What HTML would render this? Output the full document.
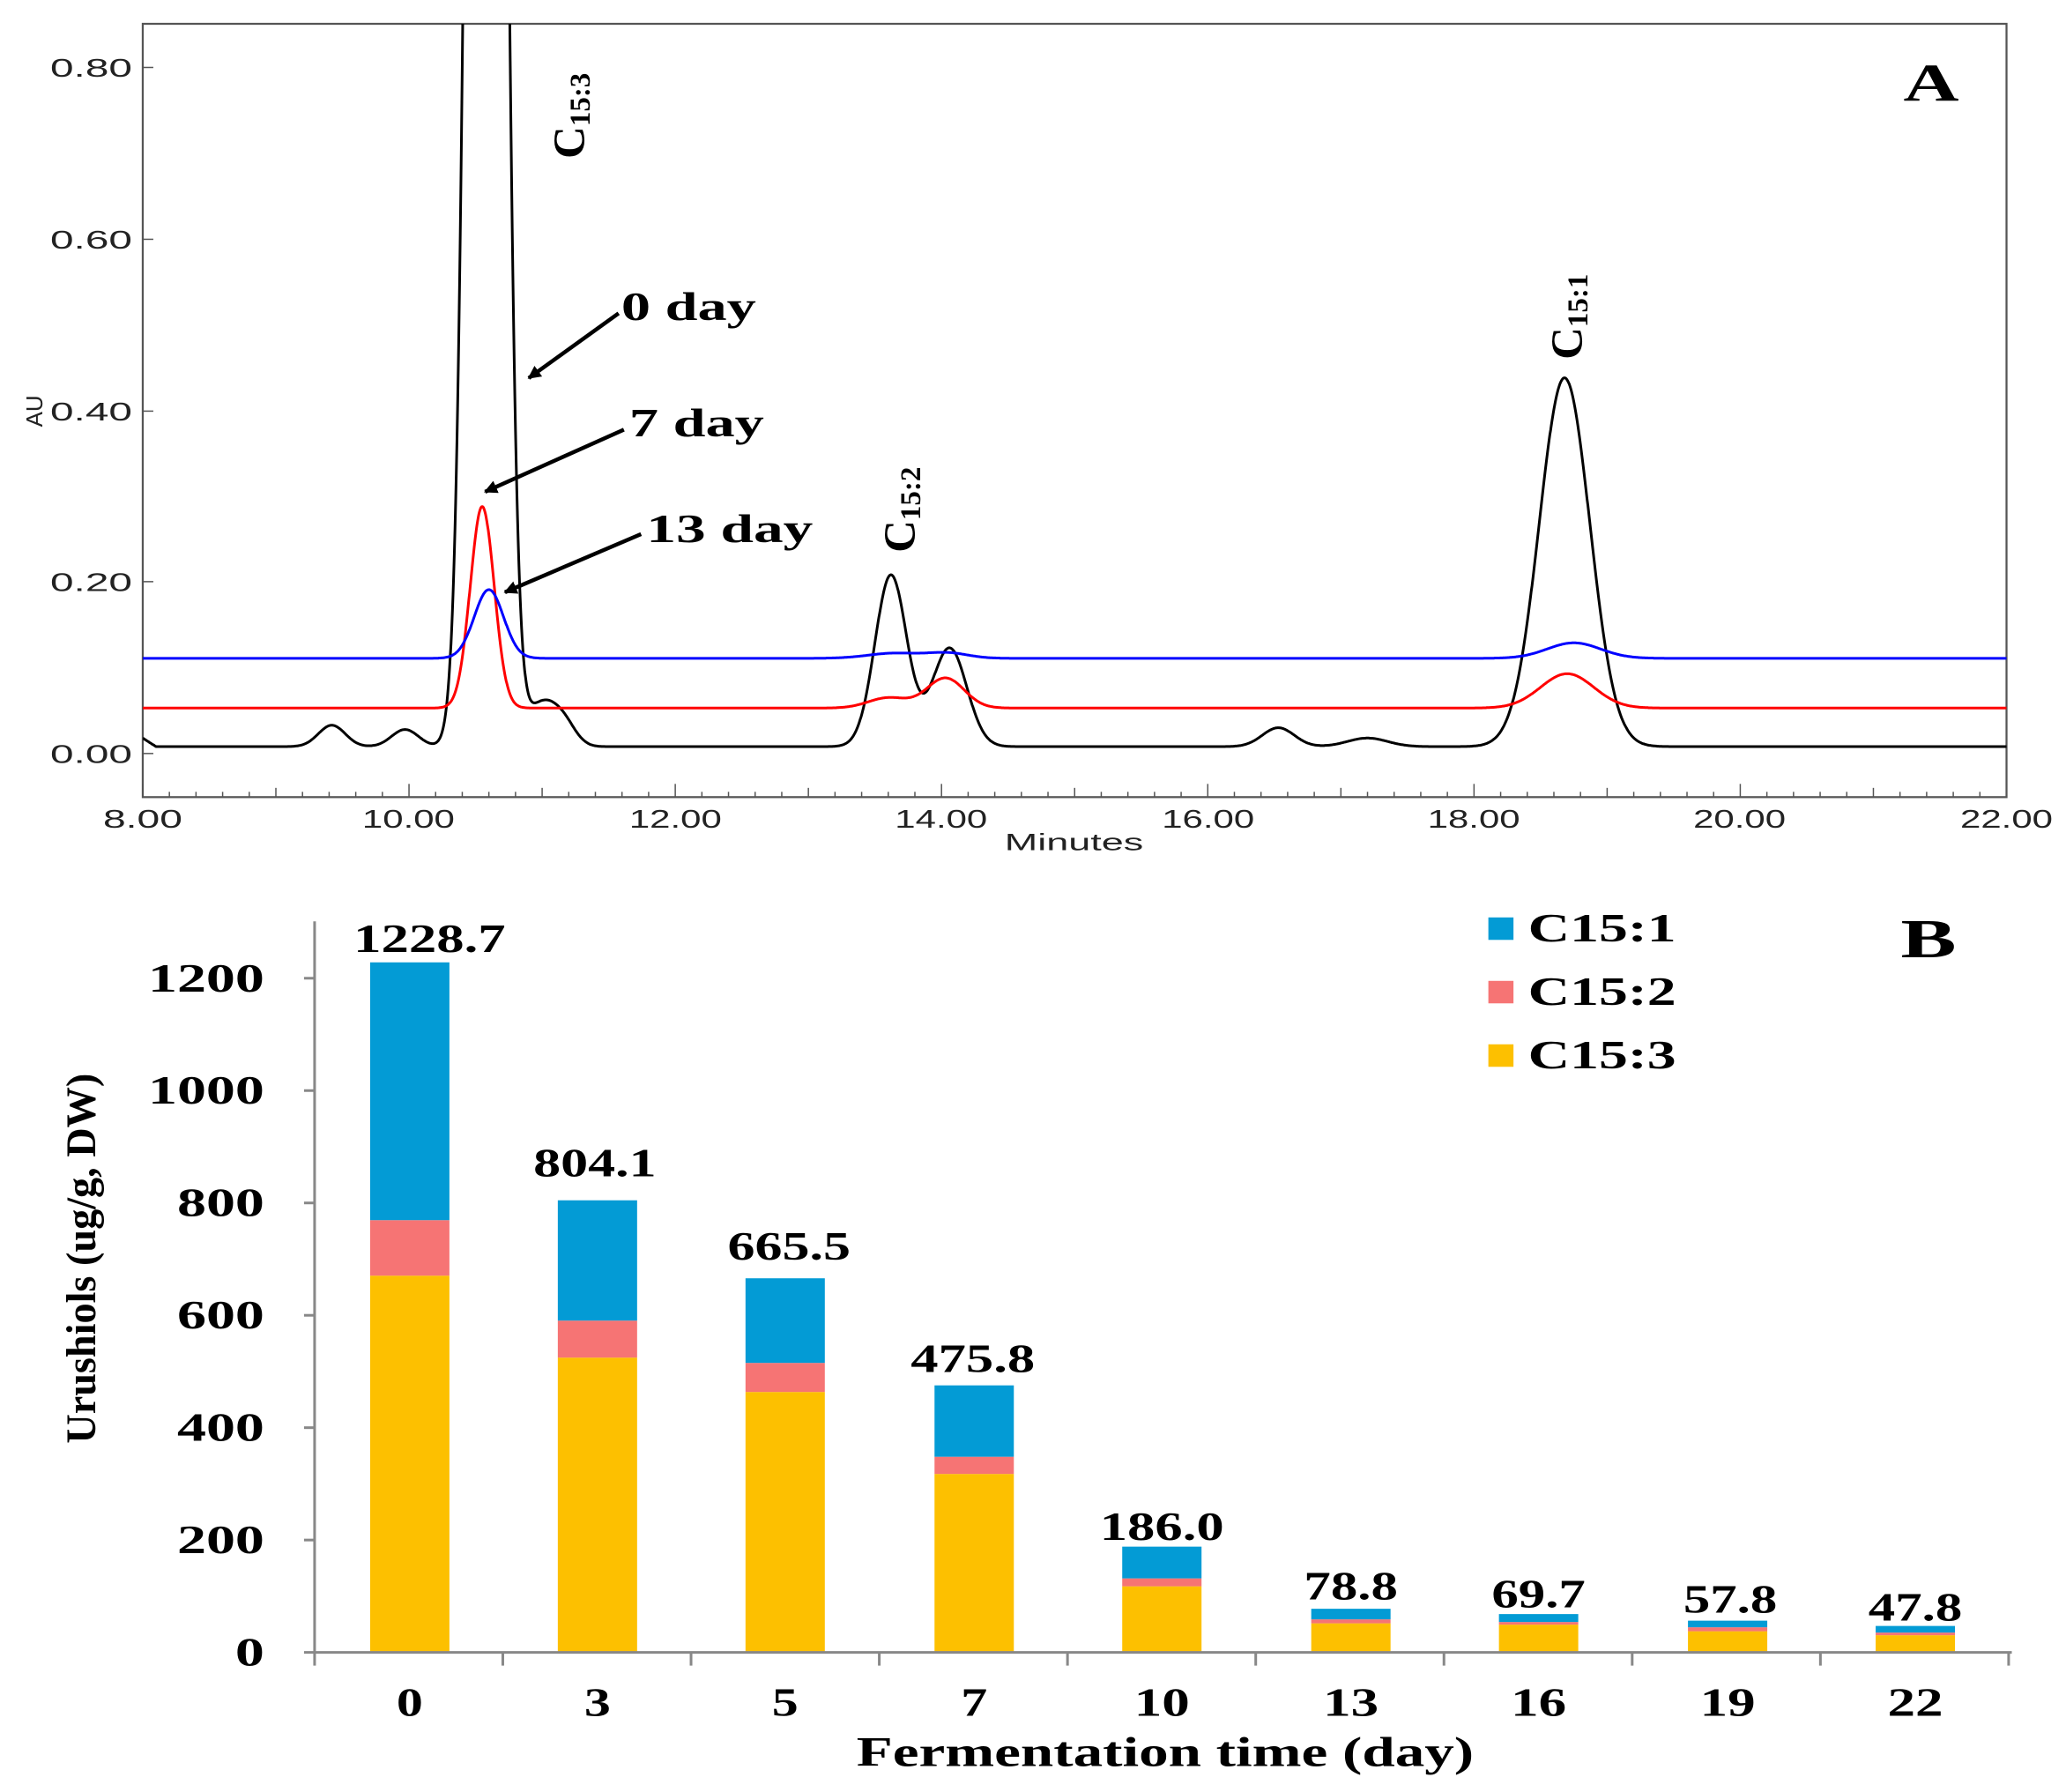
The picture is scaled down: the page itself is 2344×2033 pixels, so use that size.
<!DOCTYPE html>
<html><head><meta charset="utf-8"><style>html,body{margin:0;padding:0;background:#fff}svg{display:block}</style></head>
<body>
<svg id="s" width="2344" height="2033" viewBox="0 0 1563 1355.6" xmlns="http://www.w3.org/2000/svg" font-family="Liberation Serif, serif">
<defs><clipPath id="cp"><rect x="108" y="18" width="1410" height="585"/></clipPath>
<marker id="ah" markerWidth="10" markerHeight="10" refX="9" refY="5" orient="auto" markerUnits="userSpaceOnUse" viewBox="0 0 10 10"><path d="M0,0 L10,5 L0,10 z" fill="#000"/></marker></defs>
<!-- Panel A -->
<rect x="108" y="18" width="1410" height="585" fill="none" stroke="#555" stroke-width="1.5"/>
<g id="ticksA" stroke="#555" stroke-width="1"></g>
<g font-family="Liberation Sans, sans-serif" font-size="19" fill="#222" lengthAdjust="spacingAndGlyphs">
<text x="38" y="58" textLength="62" lengthAdjust="spacingAndGlyphs">0.80</text><text x="38" y="188" textLength="62" lengthAdjust="spacingAndGlyphs">0.60</text><text x="38" y="318" textLength="62" lengthAdjust="spacingAndGlyphs">0.40</text><text x="38" y="447" textLength="62" lengthAdjust="spacingAndGlyphs">0.20</text><text x="38" y="577" textLength="62" lengthAdjust="spacingAndGlyphs">0.00</text>
</g>
<g font-family="Liberation Sans, sans-serif" font-size="19" fill="#222">
<text x="78" y="626" textLength="60" lengthAdjust="spacingAndGlyphs">8.00</text>
<text x="274" y="626" textLength="70" lengthAdjust="spacingAndGlyphs">10.00</text>
<text x="476" y="626" textLength="70" lengthAdjust="spacingAndGlyphs">12.00</text>
<text x="677" y="626" textLength="70" lengthAdjust="spacingAndGlyphs">14.00</text>
<text x="879" y="626" textLength="70" lengthAdjust="spacingAndGlyphs">16.00</text>
<text x="1080" y="626" textLength="70" lengthAdjust="spacingAndGlyphs">18.00</text>
<text x="1281" y="626" textLength="70" lengthAdjust="spacingAndGlyphs">20.00</text>
<text x="1483" y="626" textLength="70" lengthAdjust="spacingAndGlyphs">22.00</text>
<text x="760" y="643" font-size="18" textLength="105" lengthAdjust="spacingAndGlyphs">Minutes</text>
<text transform="translate(32,323) rotate(-90)" font-size="17" textLength="24" lengthAdjust="spacingAndGlyphs">AU</text>
</g>
<g clip-path="url(#cp)" fill="none" stroke-width="2">
<path id="pk" stroke="#000"/><path id="pr" stroke="#f00"/><path id="pb" stroke="#00f"/>
</g>
<text x="1440" y="76" font-size="40" font-weight="bold" textLength="42" lengthAdjust="spacingAndGlyphs">A</text>
<g font-weight="bold" font-size="34">
<text transform="translate(442,120) rotate(-90)">C<tspan font-size="22" dy="4">15:3</tspan></text>
<text transform="translate(692,418) rotate(-90)">C<tspan font-size="22" dy="4">15:2</tspan></text>
<text transform="translate(1197,272) rotate(-90)">C<tspan font-size="22" dy="4">15:1</tspan></text>
</g>
<g font-weight="bold" font-size="30">
<text x="470" y="242" textLength="102" lengthAdjust="spacingAndGlyphs">0 day</text>
<text x="476" y="330" textLength="102" lengthAdjust="spacingAndGlyphs">7 day</text>
<text x="489" y="410" textLength="126" lengthAdjust="spacingAndGlyphs">13 day</text>
</g>
<g stroke="#000" stroke-width="3" fill="none" marker-end="url(#ah)">
<line x1="468" y1="237" x2="400" y2="286"/>
<line x1="472" y1="325" x2="367" y2="372"/>
<line x1="485" y1="404" x2="382" y2="448"/>
</g>
<!-- Panel B -->
<g id="bars"></g>
<line x1="238" y1="697" x2="238" y2="1250" stroke="#888" stroke-width="2"/>
<line x1="238" y1="1250" x2="1522" y2="1250" stroke="#888" stroke-width="2"/>
<g id="ticksB" stroke="#888" stroke-width="2"></g>
<g font-weight="bold" font-size="30" fill="#000">
<text x="112" y="750" textLength="88" lengthAdjust="spacingAndGlyphs">1200</text>
<text x="112" y="835" textLength="88" lengthAdjust="spacingAndGlyphs">1000</text>
<text x="134" y="920" textLength="66" lengthAdjust="spacingAndGlyphs">800</text>
<text x="134" y="1005" textLength="66" lengthAdjust="spacingAndGlyphs">600</text>
<text x="134" y="1090" textLength="66" lengthAdjust="spacingAndGlyphs">400</text>
<text x="134" y="1175" textLength="66" lengthAdjust="spacingAndGlyphs">200</text>
<text x="178" y="1260" textLength="22" lengthAdjust="spacingAndGlyphs">0</text>
</g>
<g id="xlB" font-weight="bold" font-size="30"></g>
<text x="648" y="1336" font-weight="bold" font-size="32" textLength="467" lengthAdjust="spacingAndGlyphs">Fermentation time (day)</text>
<text transform="translate(72,1092) rotate(-90)" font-weight="bold" font-size="32" textLength="280" lengthAdjust="spacingAndGlyphs">Urushiols (ug/g, DW)</text>
<text x="1438" y="724" font-size="42" font-weight="bold" textLength="42" lengthAdjust="spacingAndGlyphs">B</text>
<g font-weight="bold" font-size="30">
<rect x="1126" y="694" width="19" height="17" fill="#039bd5"/><text x="1156" y="712" textLength="112" lengthAdjust="spacingAndGlyphs">C15:1</text>
<rect x="1126" y="742" width="19" height="17" fill="#f67474"/><text x="1156" y="760" textLength="112" lengthAdjust="spacingAndGlyphs">C15:2</text>
<rect x="1126" y="790" width="19" height="17" fill="#fdc000"/><text x="1156" y="808" textLength="112" lengthAdjust="spacingAndGlyphs">C15:3</text>
</g>
</svg>
<script>
function X(t){return 108+(t-8)*100.714;}
function Y(v){return 570-v*648.75;}
function g(t,c,s,a){return a*Math.exp(-0.5*((t-c)/s)*((t-c)/s));}
function path(f){var d="";for(var t=8;t<=22.001;t+=0.005){d+=(d?"L":"M")+X(t).toFixed(1)+","+Y(f(t)).toFixed(1);}return d;}
document.getElementById("pk").setAttribute("d",path(function(t){
 var b=0.008+(t<8.1?0.01*(8.1-t)/0.1:0);
 return b+g(t,9.42,0.1,0.025)+g(t,9.97,0.1,0.02)+g(t,10.58,0.1,4)+g(t,11.17,0.09,0.02)+g(t,11.0,0.12,0.05)
 +g(t,13.62,0.12,0.2)+g(t,14.06,0.13,0.115)+g(t,16.53,0.12,0.022)+g(t,17.2,0.15,0.01)+g(t,18.68,0.19,0.43);}));
document.getElementById("pr").setAttribute("d",path(function(t){
 return 0.053+g(t,10.55,0.09,0.235)+g(t,13.6,0.15,0.012)+g(t,14.03,0.14,0.035)+g(t,18.7,0.2,0.04);}));
document.getElementById("pb").setAttribute("d",path(function(t){
 return 0.111+g(t,10.6,0.11,0.08)+g(t,13.65,0.2,0.006)+g(t,14.05,0.15,0.006)+g(t,18.75,0.2,0.018);}));
var h="";
for(var i=0;i<=70;i++){var x=108+i*1410/70,l=(i%10==0)?10:(i%5==0?7:4);h+='<line x1="'+x+'" y1="603" x2="'+x+'" y2="'+(603-l)+'"/>';}
[51,181,311,440,570].forEach(function(y){h+='<line x1="108" y1="'+y+'" x2="116" y2="'+y+'"/>';});
document.getElementById("ticksA").innerHTML=h;
var B=[[310,965,923,728,"1228.7",325,720,115],[452,1027,999,908,"804.1",450,890,93],[594,1053,1031,967,"665.5",597,953,93],[737,1115,1102,1048,"475.8",736,1038,94],[879,1200,1194,1170,"186.0",879,1165,94],[1022,1228,1225,1217,"78.8",1022,1210,71],[1164,1229,1227,1221,"69.7",1164,1216,71],[1307,1234,1231,1226,"57.8",1309,1220,71],[1449,1237,1235,1230,"47.8",1449,1226,71]];
var labs=["0","3","5","7","10","13","16","19","22"];
var hb="",hl="";
B.forEach(function(b,i){var x=b[0]-30;
 hb+='<rect x="'+x+'" y="'+b[1]+'" width="60" height="'+(1250-b[1])+'" fill="#fdc000"/>';
 hb+='<rect x="'+x+'" y="'+b[2]+'" width="60" height="'+(b[1]-b[2])+'" fill="#f67474"/>';
 hb+='<rect x="'+x+'" y="'+b[3]+'" width="60" height="'+(b[2]-b[3])+'" fill="#039bd5"/>';
 var w=labs[i].length==1?20:42;
 hl+='<text x="'+(b[0]-w/2)+'" y="1298" textLength="'+w+'" lengthAdjust="spacingAndGlyphs">'+labs[i]+'</text>';
 hl+='<text x="'+(b[5]-b[7]/2)+'" y="'+b[6]+'" textLength="'+b[7]+'" lengthAdjust="spacingAndGlyphs">'+b[4]+'</text>';
});
document.getElementById("bars").innerHTML=hb;
document.getElementById("xlB").innerHTML=hl;
var tb="";
for(var i=0;i<=9;i++){var x=238+i*142.4;tb+='<line x1="'+x+'" y1="1250" x2="'+x+'" y2="1260"/>';}
for(var v=0;v<=1200;v+=200){var y=1250-v*0.425;tb+='<line x1="230" y1="'+y+'" x2="238" y2="'+y+'"/>';}
document.getElementById("ticksB").innerHTML=tb;
</script>
</body></html>
